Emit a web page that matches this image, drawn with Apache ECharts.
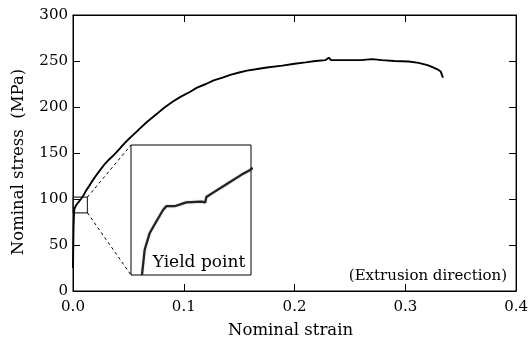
<!DOCTYPE html>
<html>
<head>
<meta charset="utf-8">
<script src="https://cdn.jsdelivr.net/npm/echarts@6/dist/echarts.min.js"></script>
<style>
  html, body { margin: 0; padding: 0; background: #fff; }
  #chart { width: 531px; height: 344px; }
</style>
</head>
<body>
<div id="chart"></div>
<script>
// ---- data ----
const strain = [0, 0.0002, 0.0005, 0.0009, 0.0012, 0.0027, 0.0045, 0.0072, 0.0095, 0.0117,
  0.0145, 0.0177, 0.0205, 0.0236, 0.028, 0.0326, 0.037, 0.0416, 0.046, 0.0506,
  0.055, 0.0582, 0.0602, 0.067, 0.0752, 0.082, 0.0902, 0.097, 0.105, 0.112,
  0.120, 0.127, 0.135, 0.142, 0.150, 0.157, 0.165, 0.175, 0.189, 0.200,
  0.210, 0.219, 0.228, 0.231, 0.233, 0.240, 0.249, 0.260, 0.270, 0.279,
  0.290, 0.303, 0.312, 0.320, 0.324, 0.329, 0.332, 0.334];
const stress = [25, 45, 70, 84, 89, 93, 95, 100, 104, 109,
  114, 120, 125, 130, 137, 143, 148, 154, 160, 165.5,
  170.5, 174, 176.5, 184, 192, 199, 206, 211, 216, 221,
  225, 229, 232, 235, 237.5, 239.5, 241, 243, 245, 247,
  248.5, 250, 251, 253.5, 251, 251, 251, 251, 252, 251,
  250, 249.5, 248, 245.5, 243.5, 241, 238.5, 232];

// zoomed region (yield point)
const zoomStrainRange = [0, 0.013];
const zoomStressRange = [85, 102];
const insetStrain = [0.00119, 0.00148, 0.00203, 0.00274, 0.00347, 0.00382, 0.00473, 0.00599,
  0.00762, 0.00805, 0.00816, 0.00907, 0.01051, 0.01195, 0.01286, 0.0132];
const insetStress = [85.0, 88.3, 90.5, 92.0, 93.5, 94.0, 94.0, 94.5,
  94.6, 94.5, 95.2, 95.9, 97.0, 98.1, 98.7, 99.0];

const xTickInterval = 0.1, xMin = 0, xMax = 0.4;
const yTickInterval = 50, yMin = 0, yMax = 300;
const xTitle = 'Nominal strain';
const yTitle = 'Nominal stress  (MPa)';
const insetLabel = 'Yield point';
const noteLabel = '(Extrusion direction)';

const FONT = 'DejaVu Serif';
const mainData = strain.map((s, i) => [s, stress[i]]);
const insetData = insetStrain.map((s, i) => [s, insetStress[i]]);

const chart = echarts.init(document.getElementById('chart'), null, { renderer: 'canvas' });

function tick() { return { show: true, inside: true, length: 7, lineStyle: { color: '#000', width: 1 } }; }
function axLine() { return { show: true, onZero: false, lineStyle: { color: '#000', width: 1 } }; }

const option = {
  backgroundColor: '#fff',
  animation: false,
  grid: [
    { left: 73, top: 15, right: 13, bottom: 49, show: true, borderColor: '#000', borderWidth: 1, backgroundColor: 'transparent' },
    { left: 131, top: 145, width: 120, height: 130, show: true, borderColor: '#000', borderWidth: 1, backgroundColor: '#fff', z: 5 }
  ],
  xAxis: [
    { gridIndex: 0, type: 'value', min: xMin, max: xMax, interval: xTickInterval, position: 'bottom',
      axisLine: axLine(), axisTick: tick(), splitLine: { show: false },
      axisLabel: { color: '#000', fontFamily: FONT, fontSize: 15, margin: 9, formatter: v => v.toFixed(1) },
      name: xTitle, nameLocation: 'middle', nameGap: 31,
      nameTextStyle: { color: '#000', fontFamily: FONT, fontSize: 16.5, padding: [0, 8, 0, 0] } },
    { gridIndex: 0, type: 'value', min: xMin, max: xMax, interval: xTickInterval, position: 'top',
      axisLine: axLine(), axisTick: tick(), splitLine: { show: false }, axisLabel: { show: false } },
    { gridIndex: 1, type: 'value', min: zoomStrainRange[0], max: zoomStrainRange[1], show: false }
  ],
  yAxis: [
    { gridIndex: 0, type: 'value', min: yMin, max: yMax, interval: yTickInterval, position: 'left',
      axisLine: axLine(), axisTick: tick(), splitLine: { show: false },
      axisLabel: { color: '#000', fontFamily: FONT, fontSize: 15, margin: 5 },
      name: yTitle, nameLocation: 'middle', nameGap: 46,
      nameTextStyle: { color: '#000', fontFamily: FONT, fontSize: 16.5, padding: [0, 18, 0, 0] } },
    { gridIndex: 0, type: 'value', min: yMin, max: yMax, interval: yTickInterval, position: 'right',
      axisLine: axLine(), axisTick: tick(), splitLine: { show: false }, axisLabel: { show: false } },
    { gridIndex: 1, type: 'value', min: zoomStressRange[0], max: zoomStressRange[1], show: false }
  ],
  series: [
    { type: 'line', xAxisIndex: 0, yAxisIndex: 0, data: mainData, showSymbol: false,
      lineStyle: { color: '#000', width: 1.9 }, z: 3,
      markArea: { silent: true,
        itemStyle: { color: 'rgba(0,0,0,0)', borderColor: '#333', borderWidth: 1.2 },
        data: [[{ coord: [zoomStrainRange[0], zoomStressRange[1]] }, { coord: [zoomStrainRange[1], zoomStressRange[0]] }]] } },
    { type: 'line', xAxisIndex: 2, yAxisIndex: 2, data: insetData, showSymbol: false, clip: true,
      lineStyle: { color: '#222', width: 2.2, shadowColor: 'rgba(0,0,0,0.35)', shadowBlur: 1.5 }, z: 6 }
  ]
};
chart.setOption(option);

const boxTR = chart.convertToPixel({ gridIndex: 0 }, [zoomStrainRange[1], zoomStressRange[1]]);
const boxBR = chart.convertToPixel({ gridIndex: 0 }, [zoomStrainRange[1], zoomStressRange[0]]);
const insTL = chart.convertToPixel({ gridIndex: 1 }, [zoomStrainRange[0], zoomStressRange[1]]);
const insBL = chart.convertToPixel({ gridIndex: 1 }, [zoomStrainRange[0], zoomStressRange[0]]);
const insBR = chart.convertToPixel({ gridIndex: 1 }, [zoomStrainRange[1], zoomStressRange[0]]);
const plotBR = chart.convertToPixel({ gridIndex: 0 }, [xMax, yMin]);

chart.setOption({
  graphic: [
    { type: 'line', z: 4, shape: { x1: boxTR[0], y1: boxTR[1], x2: insTL[0], y2: insTL[1] },
      style: { stroke: '#000', lineWidth: 1, lineDash: [3, 3] } },
    { type: 'line', z: 4, shape: { x1: boxBR[0], y1: boxBR[1], x2: insBL[0], y2: insBL[1] },
      style: { stroke: '#000', lineWidth: 1, lineDash: [3, 3] } },
    { type: 'text', z: 10, x: (insBL[0] + insBR[0]) / 2 + 8, y: insBL[1] - 12,
      style: { text: insetLabel, font: '17px "DejaVu Serif"', fill: '#000', textAlign: 'center', textVerticalAlign: 'middle' } },
    { type: 'text', z: 10, x: plotBR[0] - 9, y: plotBR[1] - 15,
      style: { text: noteLabel, font: '15px "DejaVu Serif"', fill: '#000', textAlign: 'right', textVerticalAlign: 'middle' } }
  ]
});
</script>
</body>
</html>
